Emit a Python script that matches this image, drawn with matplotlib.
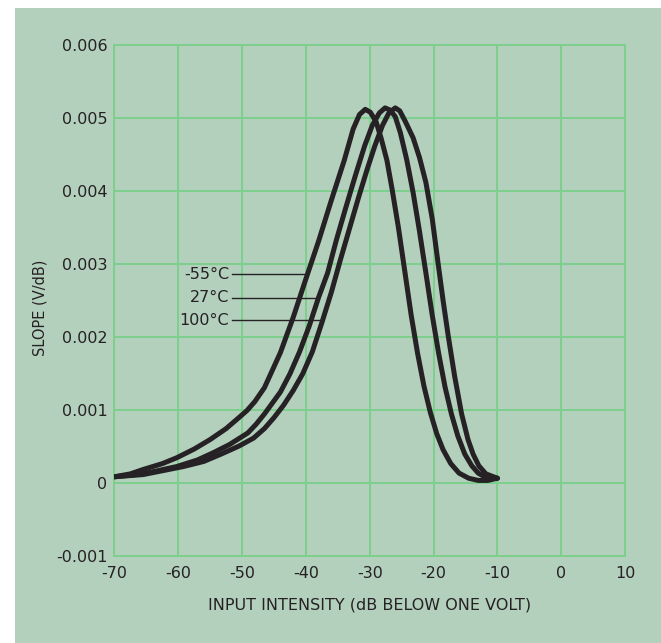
import matplotlib
matplotlib.use("Agg")
import matplotlib.pyplot as plt
from matplotlib.patches import Rectangle

# ---- data (slope in units of 1e-3 V/dB) ----
db_m55 = [-70, -67.5, -65.5, -62.5, -60.25, -57.5, -55, -52.5, -50.5, -49.2, -48, -46.5, -44, -42,
          -40, -38, -36, -34, -32.6, -31.6, -30.7, -29.9, -29.0, -28.2, -27.3, -26.5, -25.5,
          -24.5, -23.5, -22.5, -21.5, -20.5, -19.5, -18.5, -17.3, -16.0, -14.5, -13.0, -11.5, -10]
slope_m55 = [0.09, 0.13, 0.19, 0.27, 0.35, 0.47, 0.60, 0.75, 0.90, 1.00, 1.12, 1.31, 1.79, 2.27,
             2.80, 3.32, 3.88, 4.42, 4.85, 5.05, 5.12, 5.08, 4.95, 4.72, 4.42, 4.03, 3.50,
             2.90, 2.30, 1.78, 1.33, 0.97, 0.68, 0.46, 0.27, 0.14, 0.07, 0.04, 0.04, 0.07]

db_27 = [-70, -65.5, -60.25, -57, -54.5, -52, -49.1, -47.8, -46.5, -44, -42.5, -41, -39.5, -38,
         -36.6, -35.2, -33.8, -32.3, -30.8, -29.6, -28.5, -27.6, -26.8, -26.0, -25.2, -24.2,
         -23.2, -22.2, -21.2, -20.2, -19.2, -18.2, -17.2, -16.2, -15.1, -14.0, -13.0, -11.8, -10]
slope_27 = [0.09, 0.13, 0.23, 0.32, 0.42, 0.53, 0.69, 0.81, 0.95, 1.25, 1.50, 1.80, 2.15, 2.55,
            2.88, 3.34, 3.76, 4.20, 4.62, 4.90, 5.07, 5.14, 5.11, 5.02, 4.80, 4.43,
            3.98, 3.45, 2.88, 2.30, 1.78, 1.32, 0.95, 0.65, 0.40, 0.24, 0.14, 0.08, 0.07]

db_100 = [-70, -65.5, -59.2, -56, -53.3, -50.5, -48.2, -46.5, -45, -43.5, -42, -40.5, -39, -37.5,
          -36, -34.6, -33.2, -31.8, -30.4, -29.2, -28.0, -27.0, -26.0, -25.3, -24.4, -23.2,
          -22.2, -21.2, -20.2, -19.3, -18.5, -17.7, -16.7, -15.6, -14.6, -13.8, -12.9, -11.8, -10]
slope_100 = [0.09, 0.12, 0.23, 0.30, 0.40, 0.51, 0.62, 0.75, 0.90, 1.07, 1.27, 1.50, 1.80, 2.20,
             2.62, 3.06, 3.48, 3.90, 4.30, 4.62, 4.90, 5.07, 5.14, 5.10, 4.95, 4.73,
             4.46, 4.12, 3.62, 3.02, 2.50, 2.02, 1.47, 0.95, 0.60, 0.40, 0.24, 0.13, 0.07]

series_labels = ["-55°C", "27°C", "100°C"]
label_y = [2.86, 2.54, 2.23]          # x1e-3 V/dB
label_curve_x = [-39.9, -38.3, -37.5]  # where leader lines meet curves

xticks = [-70, -60, -50, -40, -30, -20, -10, 0, 10]
xtick_labels = ["-70", "-60", "-50", "-40", "-30", "-20", "-10", "0", "10"]
yticks = [-0.001, 0, 0.001, 0.002, 0.003, 0.004, 0.005, 0.006]
ytick_labels = ["-0.001", "0", "0.001", "0.002", "0.003", "0.004", "0.005", "0.006"]

xlabel = "INPUT INTENSITY (dB BELOW ONE VOLT)"
ylabel = "SLOPE (V/dB)"

# ---- style ----
BG = "#b3d0bc"
GRID = "#7dcf8c"
INK = "#262124"

fig = plt.figure(figsize=(6.61, 6.43), dpi=100)
fig.patch.set_facecolor("white")
fig.patches.append(Rectangle((15 / 661, 0), 1 - 15 / 661, 1 - 8 / 643,
                             transform=fig.transFigure, facecolor=BG,
                             edgecolor="none", zorder=-10))

ax = fig.add_axes([0.1732, 0.1347, 0.9455 - 0.1732, 0.9299 - 0.1347])
ax.set_facecolor(BG)
ax.set_xlim(-70, 10)
ax.set_ylim(-0.001, 0.006)

ax.set_xticks(xticks, labels=xtick_labels)
ax.set_yticks(yticks, labels=ytick_labels)
ax.tick_params(length=0, labelsize=11.5, colors=INK)
ax.tick_params(axis="x", pad=7)
ax.tick_params(axis="y", pad=5)
ax.grid(True, color=GRID, linewidth=1.4)
ax.set_axisbelow(True)
for s in ax.spines.values():
    s.set_color(GRID)
    s.set_linewidth(1.4)

for xs, ys in [(db_m55, slope_m55), (db_27, slope_27), (db_100, slope_100)]:
    ax.plot(xs, [v * 1e-3 for v in ys], color=INK, linewidth=3.6,
            solid_joinstyle="round", solid_capstyle="round", zorder=3)

for lab, ly, lx in zip(series_labels, label_y, label_curve_x):
    ax.plot([-51.6, lx], [ly * 1e-3, ly * 1e-3], color=INK, linewidth=1.0, zorder=2)
    ax.text(-52.0, ly * 1e-3, lab, ha="right", va="center", fontsize=11.5, color=INK)

ax.set_xlabel(xlabel, fontsize=11.5, color=INK)
ax.xaxis.set_label_coords(0.5, -0.0947)
ax.xaxis.label.set_va("center")
ax.set_ylabel(ylabel, fontsize=10.5, color=INK)
ax.yaxis.set_label_coords(-0.146, 0.486)
ax.yaxis.label.set_va("center")

fig.savefig("out.png", dpi=100, facecolor=fig.get_facecolor())
